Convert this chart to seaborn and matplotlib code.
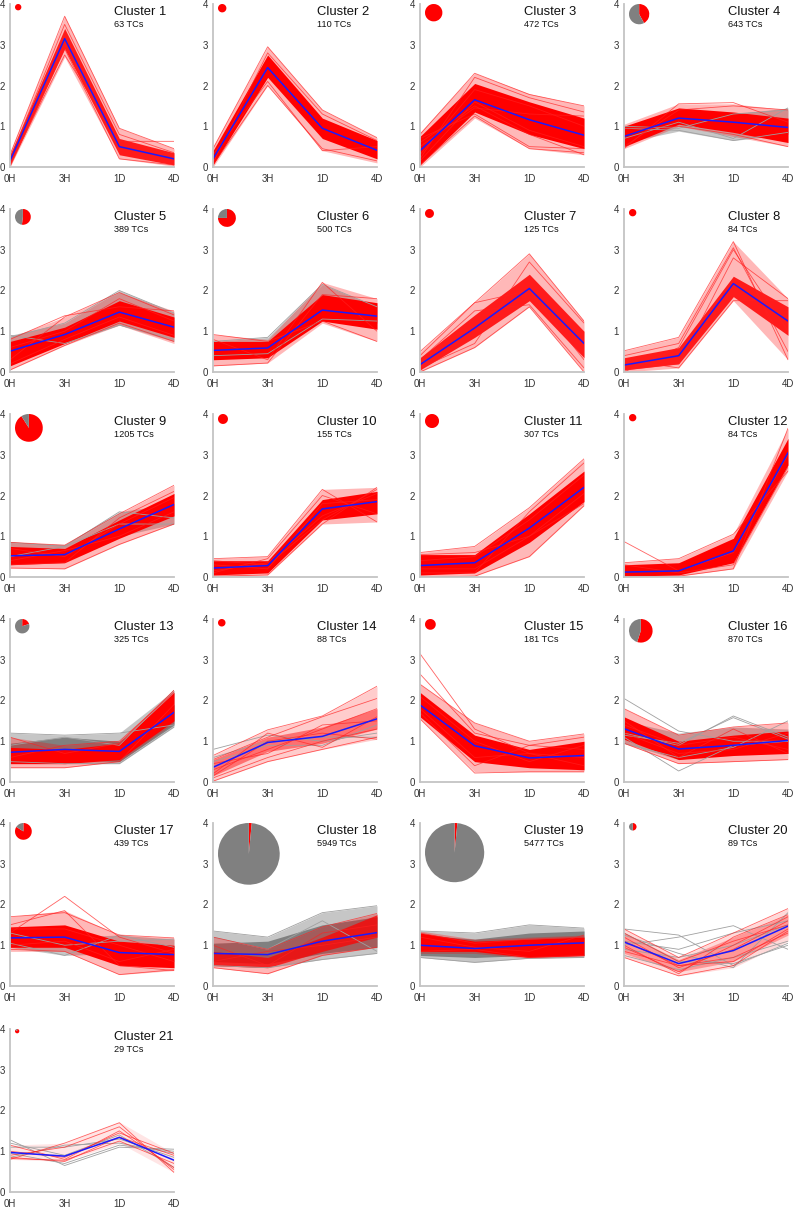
import numpy as np
import pandas as pd
import matplotlib
matplotlib.use("Agg")
import matplotlib.pyplot as plt
import seaborn as sns

# time points and cluster sizes
time_labels = ["0H", "3H", "1D", "4D"]
tc_counts = [63, 110, 472, 643, 389, 500, 125, 84, 1205, 155, 307, 84,
             325, 88, 181, 870, 439, 5949, 5477, 89, 29]
# share of red TCs in each cluster (pie)
red_share = [1.0, 1.0, 1.0, 0.42, 0.52, 0.75, 1.0, 1.0, 0.91, 1.0, 1.0, 1.0,
             0.2, 1.0, 1.0, 0.55, 0.84, 0.015, 0.015, 0.5, 0.85]

# blue mean profile per cluster
mean_profiles = [
    [0.15, 3.15, 0.5, 0.2], [0.2, 2.44, 0.95, 0.41], [0.4, 1.65, 1.16, 0.78],
    [0.75, 1.2, 1.1, 0.97], [0.51, 0.92, 1.47, 1.1], [0.53, 0.59, 1.52, 1.37],
    [0.18, 1.08, 2.05, 0.7], [0.17, 0.4, 2.17, 1.25], [0.52, 0.55, 1.18, 1.78],
    [0.22, 0.28, 1.67, 1.85], [0.28, 0.35, 1.2, 2.2], [0.12, 0.15, 0.64, 3.05],
    [0.73, 0.8, 0.75, 1.71], [0.36, 0.97, 1.12, 1.55], [1.89, 0.89, 0.59, 0.65],
    [1.31, 0.81, 0.9, 1.02], [1.18, 1.2, 0.82, 0.77], [0.8, 0.77, 1.1, 1.31],
    [1.0, 0.92, 1.0, 1.06], [1.08, 0.55, 0.87, 1.47], [0.97, 0.88, 1.34, 0.78],
]

# dense part of the red bundle
red_core_lo = [
    [0.05, 2.9, 0.3, 0.05], [0.05, 2.2, 0.7, 0.2], [0.05, 1.35, 0.8, 0.45],
    [0.5, 1.05, 0.85, 0.6], [0.15, 0.7, 1.25, 0.85], [0.3, 0.35, 1.25, 1.05],
    [0.05, 0.85, 1.75, 0.35], [0.05, 0.2, 1.85, 0.9], [0.3, 0.35, 0.95, 1.5],
    [0.05, 0.1, 1.4, 1.55], [0.05, 0.1, 0.85, 1.85], [0.02, 0.05, 0.35, 2.75],
    [0.45, 0.45, 0.55, 1.5], [0.15, 0.75, 0.95, 1.3], [1.6, 0.5, 0.35, 0.3],
    [1.05, 0.55, 0.65, 0.7], [0.95, 0.95, 0.5, 0.45], [0.5, 0.45, 0.85, 1.2],
    [0.85, 0.85, 0.7, 0.75], [0.8, 0.35, 0.6, 1.25], [0.85, 0.8, 1.25, 0.6],
]
red_core_hi = [
    [0.3, 3.4, 0.7, 0.35], [0.4, 2.75, 1.2, 0.65], [0.75, 2.05, 1.6, 1.2],
    [1.0, 1.45, 1.35, 1.2], [0.75, 1.1, 1.75, 1.35], [0.75, 0.75, 1.9, 1.7],
    [0.35, 1.4, 2.4, 1.0], [0.35, 0.6, 2.35, 1.6], [0.75, 0.7, 1.4, 2.05],
    [0.4, 0.4, 1.9, 2.1], [0.55, 0.55, 1.55, 2.6], [0.3, 0.35, 0.95, 3.4],
    [0.85, 0.8, 0.95, 2.2], [0.55, 1.1, 1.35, 1.8], [2.2, 1.15, 0.8, 1.0],
    [1.6, 1.0, 1.15, 1.25], [1.45, 1.5, 1.1, 1.0], [0.85, 0.7, 1.2, 1.75],
    [1.3, 1.1, 1.15, 1.2], [1.3, 0.65, 1.2, 1.75], [1.1, 1.1, 1.55, 0.9],
]
# full spread of the red bundle
red_outer_lo = [
    [0.0, 2.7, 0.2, 0.02], [0.0, 2.0, 0.4, 0.1], [0.0, 1.2, 0.45, 0.3],
    [0.45, 1.0, 0.75, 0.5], [0.05, 0.65, 1.15, 0.7], [0.15, 0.22, 1.2, 0.75],
    [0.0, 0.6, 1.6, 0.0], [0.0, 0.1, 1.75, 0.3], [0.22, 0.2, 0.8, 1.3],
    [0.02, 0.05, 1.3, 1.35], [0.0, 0.02, 0.5, 1.75], [0.0, 0.02, 0.2, 2.6],
    [0.35, 0.35, 0.5, 1.45], [0.02, 0.5, 0.8, 1.05], [1.55, 0.25, 0.25, 0.25],
    [0.95, 0.45, 0.5, 0.55], [0.85, 0.85, 0.28, 0.38], [0.45, 0.3, 0.75, 0.95],
    [0.8, 0.8, 0.68, 0.72], [0.7, 0.25, 0.45, 1.1], [0.8, 0.75, 1.2, 0.48],
]
red_outer_hi = [
    [0.35, 3.7, 0.95, 0.45], [0.5, 2.95, 1.4, 0.72], [0.85, 2.3, 1.8, 1.5],
    [1.05, 1.55, 1.55, 1.4], [0.85, 1.35, 1.95, 1.5], [0.92, 0.8, 2.2, 1.8],
    [0.5, 1.7, 2.9, 1.25], [0.52, 0.85, 3.2, 1.8], [0.85, 0.78, 1.55, 2.25],
    [0.45, 0.5, 2.15, 2.2], [0.6, 0.75, 1.7, 2.9], [0.35, 0.45, 1.05, 3.65],
    [1.1, 0.9, 1.0, 2.25], [0.65, 1.28, 1.62, 2.35], [2.4, 1.45, 1.0, 1.18],
    [1.8, 1.15, 1.35, 1.45], [1.7, 1.85, 1.25, 1.18], [1.2, 0.9, 1.45, 1.78],
    [1.35, 1.15, 1.2, 1.25], [1.4, 0.7, 1.3, 1.9], [1.15, 1.2, 1.72, 0.95],
]

# gray bundle spread (None = no gray band)
gray_outer_lo = [
    None, None, None, [0.6, 0.88, 0.65, 0.8], [0.5, 0.7, 1.15, 0.75],
    [0.4, 0.4, 1.3, 1.2], None, None, [0.45, 0.5, 1.0, 1.3], None, None, None,
    [0.5, 0.45, 0.45, 1.35], None, None, [0.95, 0.55, 0.75, 0.7],
    [0.95, 0.75, 0.8, 0.6], [0.5, 0.45, 0.65, 0.8], [0.7, 0.58, 0.68, 0.7],
    None, None,
]
gray_outer_hi = [
    None, None, None, [1.0, 1.2, 1.3, 1.45], [0.9, 1.2, 2.0, 1.45],
    [0.75, 0.85, 2.15, 1.6], None, None, [0.85, 0.8, 1.6, 1.8], None, None, None,
    [1.2, 1.15, 1.2, 2.25], None, None, [1.5, 1.2, 1.35, 1.3],
    [1.3, 1.2, 1.25, 1.15], [1.35, 1.2, 1.8, 1.97], [1.35, 1.3, 1.5, 1.42],
    None, None,
]
gray_core_lo = {13: [0.6, 0.55, 0.5, 1.4], 18: [0.6, 0.55, 0.8, 0.95],
                19: [0.75, 0.7, 0.75, 0.75]}
gray_core_hi = {13: [0.95, 1.1, 1.0, 1.9], 18: [1.05, 1.1, 1.5, 1.7],
                19: [1.25, 1.15, 1.3, 1.35]}

# single visible traces
red_traces = {
    1: [[0.05, 2.75, 0.63, 0.63], [0.3, 3.7, 0.95, 0.45], [0.0, 2.9, 0.2, 0.05], [0.2, 3.5, 0.8, 0.35]],
    2: [[0.45, 2.95, 1.4, 0.72], [0.05, 2.0, 0.45, 0.15], [0.3, 2.1, 0.4, 0.5], [0.1, 2.8, 1.3, 0.65]],
    3: [[0.8, 2.3, 1.78, 1.5], [0.05, 1.25, 0.45, 0.35], [0.7, 1.3, 0.5, 0.45], [0.2, 2.2, 1.7, 1.35],
        [0.6, 1.5, 0.8, 0.3], [0.3, 1.9, 1.5, 1.0], [0.5, 1.45, 1.3, 1.25], [0.15, 1.6, 0.9, 0.5]],
    4: [[0.45, 1.55, 1.58, 1.1], [0.95, 1.0, 0.8, 0.5], [0.5, 1.4, 1.5, 1.4]],
    5: [[0.05, 0.65, 1.2, 0.75], [0.8, 1.38, 1.6, 1.5], [0.3, 1.35, 1.95, 1.4],
        [0.6, 1.0, 1.8, 1.25], [0.2, 0.8, 1.35, 0.9]],
    6: [[0.92, 0.75, 1.25, 0.75], [0.15, 0.22, 1.9, 1.8], [0.8, 0.3, 2.2, 1.0]],
    7: [[0.5, 1.7, 2.9, 1.25], [0.0, 0.6, 1.6, 0.0], [0.4, 1.7, 2.0, 0.3], [0.1, 0.7, 2.7, 1.2], [0.3, 1.5, 1.65, 0.1]],
    8: [[0.52, 0.85, 3.2, 0.3], [0.4, 0.7, 3.05, 0.5], [0.05, 0.2, 2.8, 1.8], [0.3, 0.1, 1.75, 1.75], [0.0, 0.6, 3.0, 1.0]],
    9: [[0.22, 0.2, 0.8, 1.3], [0.85, 0.78, 1.55, 2.25], [0.3, 0.35, 1.45, 2.1],
        [0.7, 0.5, 1.3, 1.95], [0.4, 0.65, 1.0, 1.6]],
    10: [[0.45, 0.5, 2.15, 1.35], [0.02, 0.05, 1.3, 2.2], [0.4, 0.3, 1.4, 2.15], [0.1, 0.45, 2.0, 1.55],
         [0.3, 0.2, 1.8, 1.9], [0.15, 0.35, 1.5, 2.05]],
    11: [[0.6, 0.75, 1.7, 2.9], [0.0, 0.02, 0.5, 1.75], [0.55, 0.6, 1.0, 1.8], [0.1, 0.1, 1.6, 2.8],
         [0.4, 0.5, 1.4, 2.5], [0.2, 0.2, 1.0, 2.05]],
    12: [[0.87, 0.15, 0.6, 3.0], [0.35, 0.45, 1.05, 2.6], [0.02, 0.02, 0.2, 3.65], [0.3, 0.1, 0.3, 2.7]],
    13: [[1.1, 0.7, 0.95, 2.25], [0.35, 0.35, 0.5, 1.9], [0.6, 0.9, 1.0, 2.2]],
    14: [[0.02, 0.5, 0.8, 1.1], [0.65, 1.28, 1.62, 2.35], [0.1, 0.6, 1.0, 1.3], [0.55, 1.1, 1.6, 2.05],
         [0.3, 0.8, 1.3, 1.8], [0.2, 1.2, 0.85, 1.6], [0.45, 0.7, 1.4, 1.5], [0.15, 1.0, 1.2, 1.05]],
    15: [[3.15, 1.3, 0.7, 0.6], [2.65, 1.2, 0.9, 0.8], [2.4, 1.45, 1.0, 1.18], [1.55, 0.22, 0.25, 0.25],
         [1.7, 0.4, 0.9, 1.1], [2.1, 1.0, 0.5, 0.9], [1.8, 0.6, 0.7, 0.4]],
    16: [[1.8, 1.15, 1.35, 1.45], [0.95, 0.45, 0.5, 0.55], [1.5, 0.6, 1.3, 0.7],
         [1.4, 0.9, 1.1, 0.8], [1.2, 0.7, 0.8, 1.2]],
    17: [[1.3, 2.2, 1.2, 0.8], [1.7, 1.8, 1.25, 1.18], [0.9, 0.85, 0.28, 0.4], [1.5, 1.85, 0.5, 0.38],
         [1.4, 1.4, 1.0, 0.6], [1.0, 1.1, 0.6, 0.9]],
    18: [[1.2, 0.9, 1.45, 1.78], [0.45, 0.3, 0.75, 0.95], [1.0, 0.5, 1.3, 1.5], [0.6, 0.85, 1.0, 1.2]],
    19: [[1.3, 1.05, 1.15, 1.2], [0.85, 0.9, 0.7, 0.75], [1.2, 0.95, 0.85, 1.25]],
    20: [[1.4, 0.7, 1.3, 1.9], [0.7, 0.25, 0.5, 1.35], [1.2, 0.45, 0.9, 1.6], [1.0, 0.3, 1.2, 1.75],
         [0.85, 0.5, 0.7, 1.3], [1.3, 0.6, 1.1, 1.5], [0.95, 0.35, 1.0, 1.7], [1.1, 0.5, 0.6, 1.4]],
    21: [[0.8, 1.2, 1.7, 0.48], [1.15, 0.8, 1.5, 0.6], [0.85, 0.75, 1.35, 0.9], [0.9, 1.1, 1.6, 0.55],
         [1.0, 0.85, 1.45, 0.95], [0.82, 0.78, 1.25, 0.7]],
}
gray_traces = {
    4: [[0.95, 0.9, 0.65, 0.85], [0.7, 1.1, 0.7, 1.45], [1.0, 0.95, 1.3, 1.4]],
    5: [[0.9, 0.7, 1.15, 0.8], [0.85, 1.2, 2.0, 1.45]],
    6: [[0.75, 0.85, 2.15, 1.6], [0.4, 0.45, 1.3, 1.25]],
    9: [[0.85, 0.75, 1.6, 1.45], [0.5, 0.75, 1.3, 1.3]],
    13: [[1.2, 1.15, 1.2, 1.4], [0.5, 0.45, 0.45, 1.35], [0.9, 1.1, 0.9, 2.25]],
    14: [[0.8, 1.15, 1.0, 1.2], [0.6, 1.0, 1.1, 1.1], [0.5, 0.9, 0.9, 1.4]],
    16: [[2.05, 1.25, 1.0, 1.0], [1.1, 0.27, 0.9, 1.0], [1.2, 0.9, 1.62, 1.1], [1.15, 0.95, 1.58, 1.05], [0.95, 0.6, 0.85, 1.5]],
    17: [[1.05, 0.75, 1.25, 0.95], [1.3, 1.0, 1.1, 1.15]],
    18: [[1.35, 1.2, 1.8, 1.97], [0.5, 0.45, 0.65, 0.8], [1.2, 0.9, 1.6, 0.85]],
    19: [[1.35, 1.3, 1.5, 1.42], [0.7, 0.58, 0.68, 0.7]],
    20: [[1.4, 1.25, 0.5, 1.05], [1.0, 1.2, 1.48, 0.9], [1.25, 0.8, 0.45, 1.8], [0.75, 0.4, 0.7, 1.1],
         [1.1, 0.9, 1.3, 1.6], [1.3, 0.6, 0.55, 1.0], [0.9, 0.7, 1.0, 1.5]],
    21: [[1.28, 0.65, 1.1, 1.05], [0.85, 1.15, 1.2, 0.95], [1.2, 0.9, 1.4, 0.6], [0.95, 0.7, 1.15, 1.0],
         [1.1, 1.1, 1.3, 0.85]],
}

# drawing density of the red bundle
core_alpha = {1: 0.85, 7: 0.85, 8: 0.85, 14: 0.45, 18: 0.75, 20: 0.3, 21: 0.0}
outer_alpha = {14: 0.2, 20: 0.15, 21: 0.1}

sns.set_style("white")
plt.rcParams["font.family"] = ["Liberation Sans", "DejaVu Sans"]

W, H = 795, 1208
fig = plt.figure(figsize=(W / 100, H / 100), dpi=100)
col_left = [10, 213, 420, 624]
row_top = [4, 209, 414, 619, 823, 1029]
ax_w, ax_h = 164, 163
x = np.arange(4)


def traces_df(profiles):
    rows = []
    for k, prof in enumerate(profiles):
        for t, v in enumerate(prof):
            rows.append({"trace": k, "time": t, "value": v})
    return pd.DataFrame(rows)


for i in range(21):
    n = i + 1
    r, c = divmod(i, 4)
    left, top = col_left[c], row_top[r]
    ax = fig.add_axes([left / W, 1 - (top + ax_h) / H, ax_w / W, ax_h / H])

    # gray TCs
    if gray_outer_lo[i] is not None:
        ax.fill_between(x, gray_outer_lo[i], gray_outer_hi[i], color="#b4b4b4", alpha=0.75, lw=0)
    if n in gray_core_lo:
        ax.fill_between(x, gray_core_lo[n], gray_core_hi[n], color="#808080", lw=0)
    if n in gray_traces:
        sns.lineplot(data=traces_df(gray_traces[n]), x="time", y="value", units="trace",
                     estimator=None, color="#a0a0a0", lw=0.6, ax=ax, legend=False)

    # red TCs
    ax.fill_between(x, red_outer_lo[i], red_outer_hi[i], color="#ff0000",
                    alpha=outer_alpha.get(n, 0.28), lw=0)
    a = core_alpha.get(n, 1.0)
    if a > 0:
        ax.fill_between(x, red_core_lo[i], red_core_hi[i], color="#ff0000", alpha=a, lw=0)
    sns.lineplot(data=traces_df(red_traces[n]), x="time", y="value", units="trace",
                 estimator=None, color="#ff2020", alpha=0.7, lw=0.6, ax=ax, legend=False)

    # mean profile
    sns.lineplot(x=x, y=mean_profiles[i], color="#1a1aff", lw=1.1, ax=ax, legend=False)

    ax.set_xlim(0, 3)
    ax.set_ylim(0, 4)
    ax.set_xticks(x)
    ax.set_xticklabels(time_labels)
    ax.set_yticks([0, 1, 2, 3, 4])
    ax.set_xlabel("")
    ax.set_ylabel("")
    for s in ["top", "right"]:
        ax.spines[s].set_visible(False)
    for s in ["left", "bottom"]:
        ax.spines[s].set_color("#c4c4c4")
        ax.spines[s].set_linewidth(1.3)
    ax.tick_params(axis="both", labelsize=7, labelcolor="#333333", length=0)
    ax.tick_params(axis="y", pad=3.6)
    ax.tick_params(axis="x", pad=5)
    ax.patch.set_alpha(0)

    ax.text(0.634, 0.951, f"Cluster {n}", transform=ax.transAxes, fontsize=9.4,
            va="center", ha="left", color="#111111")
    ax.text(0.634, 0.872, f"{tc_counts[i]} TCs", transform=ax.transAxes, fontsize=6.6,
            va="center", ha="left", color="#111111")

    # pie with area proportional to cluster size
    rad = 0.4 * np.sqrt(tc_counts[i])
    pax = fig.add_axes([(left + 5) / W, 1 - (top + 2 * rad) / H, 2 * rad / W, 2 * rad / H])
    pax.pie([red_share[i], 1 - red_share[i]], colors=["#ff0000", "#808080"],
            startangle=90, counterclock=False, radius=1,
            wedgeprops=dict(linewidth=0))
    pax.set_xlim(-1, 1)
    pax.set_ylim(-1, 1)
    pax.set_axis_off()

fig.savefig("out.png", dpi=100)
